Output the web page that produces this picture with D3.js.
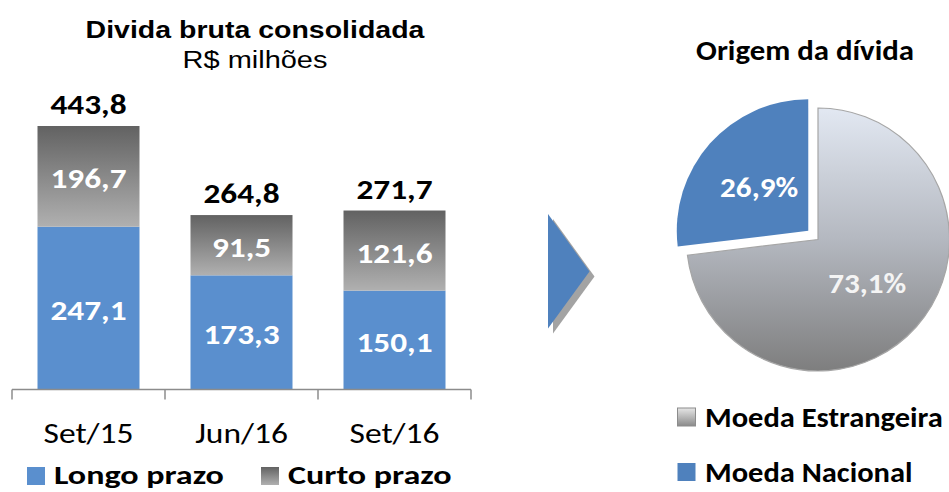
<!DOCTYPE html>
<html><head><meta charset="utf-8">
<script src="https://cdn.jsdelivr.net/npm/d3@7"></script>
<style>html,body{margin:0;padding:0;background:#fff;} svg{display:block;}</style>
</head><body>
<svg id="c" width="949" height="492"></svg>
<script>
// ---------- data ----------
const categories = ["Set/15", "Jun/16", "Set/16"];
const longoPrazo = [247.1, 173.3, 150.1];
const curtoPrazo = [196.7, 91.5, 121.6];
const totals = [443.8, 264.8, 271.7];
const seriesNames = ["Longo prazo", "Curto prazo"];
const pieCategories = ["Moeda Estrangeira", "Moeda Nacional"];
const pieValues = [73.1, 26.9];
const barTitle = "Divida bruta consolidada";
const barSubtitle = "R$ milhões";
const pieTitle = "Origem da dívida";

// ---------- helpers ----------
const svg = d3.select("#c");
const fmt = v => v.toFixed(1).replace(".", ",");
const CAL = "Carlito, Calibri, Lato, sans-serif";
const ARIAL = "'Liberation Sans', Arial, sans-serif";

function measure(str, st) {
  const t = svg.append("text").text(str)
    .attr("font-family", st.family).attr("font-weight", st.weight).attr("font-size", st.size);
  const w = t.node().getComputedTextLength();
  t.remove();
  return w;
}
function style(family, weight, size, refStr, refWidth) {
  const st = { family, weight, size };
  st.sx = refWidth / measure(refStr, st);
  return st;
}
function txt(parent, str, x, y, st, fill, anchor) {
  return parent.append("text").text(str)
    .attr("font-family", st.family).attr("font-weight", st.weight).attr("font-size", st.size)
    .attr("fill", fill || "#000").attr("text-anchor", anchor || "middle")
    .attr("transform", `translate(${x},${y}) scale(${st.sx},1)`);
}

const sTitle = style(ARIAL, "bold", 24.5, barTitle, 339);
const sSub = style(ARIAL, "normal", 24.5, barSubtitle, 145);
const sNum = style(CAL, "bold", 27.5, "196,7", 76);
const sCat = style(CAL, "normal", 29, "Set/15", 90);
const sLeg = style(CAL, "bold", 27, "Longo prazo", 170);
const sPieTitle = style(CAL, "bold", 28.5, pieTitle, 218);
const sPieLab = style(CAL, "bold", 28.5, "26,9%", 78);
const sPieLeg = style(CAL, "bold", 28, "Moeda Estrangeira", 238);

// ---------- gradients ----------
const defs = svg.append("defs");
const gBar = defs.append("linearGradient").attr("id", "gBar").attr("x1", 0).attr("y1", 0).attr("x2", 0).attr("y2", 1);
gBar.append("stop").attr("offset", 0).attr("stop-color", "#626262");
gBar.append("stop").attr("offset", 1).attr("stop-color", "#b0b0b0");
const gPie = defs.append("linearGradient").attr("id", "gPie").attr("x1", 0).attr("y1", 0).attr("x2", 0).attr("y2", 1);
gPie.append("stop").attr("offset", 0).attr("stop-color", "#e2e8f2");
gPie.append("stop").attr("offset", 0.5).attr("stop-color", "#b4b8c0");
gPie.append("stop").attr("offset", 1).attr("stop-color", "#7e7e7e");
const gLeg = defs.append("linearGradient").attr("id", "gLeg").attr("x1", 0).attr("y1", 0).attr("x2", 0).attr("y2", 1);
gLeg.append("stop").attr("offset", 0).attr("stop-color", "#e6e6e6");
gLeg.append("stop").attr("offset", 1).attr("stop-color", "#8a8a8a");

const BLUE_BAR = "#5a8fce";
const BLUE_PIE = "#4f81bd";
const colors = [BLUE_BAR, "url(#gBar)"];

// ---------- bar chart ----------
const x = d3.scaleBand().domain(categories).range([12, 471]).paddingInner(1 / 3).paddingOuter(1 / 6);
const y = d3.scaleLinear().domain([0, 400]).range([389.5, 126]).clamp(true);

txt(svg, barTitle, 255, 37.5, sTitle);
txt(svg, barSubtitle, 255, 68, sSub);

const rows = categories.map((c, i) => ({ cat: c, longo: longoPrazo[i], curto: curtoPrazo[i], total: totals[i] }));
const stack = d3.stack().keys(["longo", "curto"])(rows);

const gBars = svg.append("g");
stack.forEach((layer, li) => {
  gBars.selectAll(null).data(layer).join("rect")
    .attr("x", d => x(d.data.cat))
    .attr("width", x.bandwidth())
    .attr("y", d => y(d[1]))
    .attr("height", d => y(d[0]) - y(d[1]))
    .attr("fill", colors[li]);
});
// segment labels
stack.forEach(layer => {
  layer.forEach(d => {
    const v = d[1] - d[0];
    const cy = (y(d[0]) + y(d[1])) / 2 + 12;
    txt(svg, fmt(v), x(d.data.cat) + x.bandwidth() / 2, cy, sNum, "#ffffff");
  });
});
// totals
rows.forEach(r => {
  txt(svg, fmt(r.total), x(r.cat) + x.bandwidth() / 2, y(r.total) - 12, sNum, "#000");
});

// axis
const axisY = y(0);
const r0 = x.range()[0], r1 = x.range()[1];
svg.append("line").attr("x1", r0).attr("x2", r1).attr("y1", axisY).attr("y2", axisY)
  .attr("stroke", "#8c8c8c").attr("stroke-width", 1.5);
svg.selectAll(null).data(d3.range(categories.length + 1)).join("line")
  .attr("x1", i => r0 + i * x.step()).attr("x2", i => r0 + i * x.step())
  .attr("y1", axisY).attr("y2", axisY + 10)
  .attr("stroke", "#8c8c8c").attr("stroke-width", 1.5);
const ax = svg.append("g").attr("transform", `translate(0,${axisY})`)
  .call(d3.axisBottom(x).tickSize(0));
ax.select(".domain").remove();
ax.selectAll("text")
  .attr("y", null).attr("dy", null)
  .attr("font-family", sCat.family).attr("font-size", sCat.size).attr("font-weight", sCat.weight)
  .attr("fill", "#000")
  .attr("transform", `translate(0,53) scale(${sCat.sx},1)`);

// bar legend
const legX = [27, 261];
seriesNames.forEach((n, i) => {
  svg.append("rect").attr("x", legX[i]).attr("y", 467).attr("width", 18).attr("height", 18).attr("fill", colors[i]);
  txt(svg, n, legX[i] + 27, 484, sLeg, "#000", "start");
});

// ---------- arrow ----------
const arrow = [[548, 214], [589.5, 271.5], [548, 328.5]];
svg.append("polygon").attr("points", arrow.map(p => [p[0] + 5, p[1] + 5].join(",")).join(" ")).attr("fill", "#a3a3a3");
svg.append("polygon").attr("points", arrow.map(p => p.join(",")).join(" ")).attr("fill", BLUE_PIE);

// ---------- pie ----------
const pcx = 818, pcy = 239.5, R = 131.5, explode = 13;
txt(svg, pieTitle, 805, 60, sPieTitle);
const pie = d3.pie().sort(null).value(d => d)(pieValues);
const arc = d3.arc().innerRadius(0).outerRadius(R);
const pieFill = ["url(#gPie)", BLUE_PIE];
const gp = svg.append("g").attr("transform", `translate(${pcx},${pcy})`);
pie.forEach((p, i) => {
  const mid = (p.startAngle + p.endAngle) / 2;
  const off = i === 1 ? explode : 0;
  const dx = Math.sin(mid) * off, dy = -Math.cos(mid) * off;
  const g = gp.append("g").attr("transform", `translate(${dx},${dy})`);
  g.append("path").attr("d", arc(p)).attr("fill", pieFill[i])
    .attr("stroke", i === 0 ? "#a6a6a6" : "none").attr("stroke-width", 1.2);
  const c = arc.centroid(p);
  txt(g, d3.format(".1f")(p.data).replace(".", ",") + "%", c[0], c[1] + 10, sPieLab, i === 0 ? "#f4f4f4" : "#ffffff");
});

// pie legend
const pieLegY = [408, 463];
const pieLegFill = ["url(#gLeg)", BLUE_PIE];
pieCategories.forEach((n, i) => {
  svg.append("rect").attr("x", 677.5).attr("y", pieLegY[i]).attr("width", 18).attr("height", 18)
    .attr("fill", pieLegFill[i]).attr("stroke", i === 0 ? "#8c8c8c" : "none").attr("stroke-width", 1);
  txt(svg, n, 705, pieLegY[i] + 18.5, sPieLeg, "#000", "start");
});
</script>
</body></html>
